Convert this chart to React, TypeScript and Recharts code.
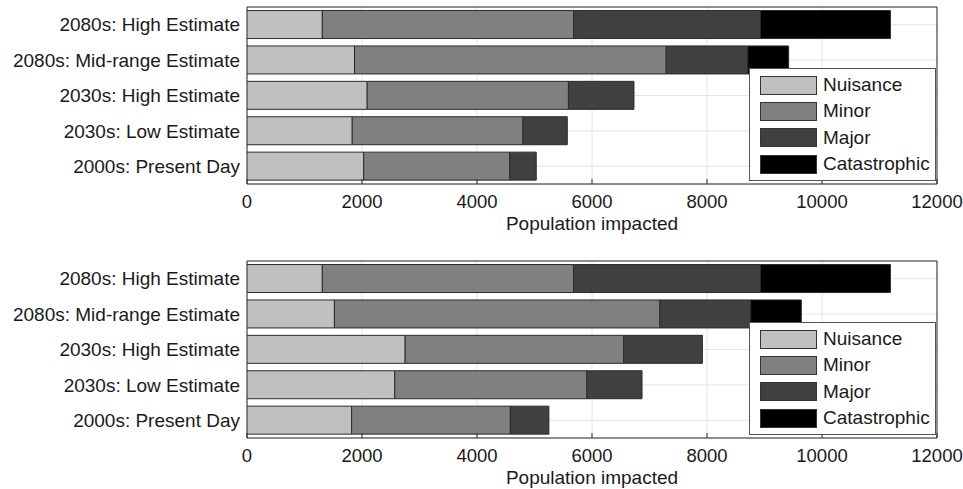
import React from 'react';
import {
  BarChart,
  Bar,
  XAxis,
  YAxis,
  CartesianGrid,
  Legend,
  ReferenceArea,
} from 'recharts';

const categories = [
  '2080s: High Estimate',
  '2080s: Mid-range Estimate',
  '2030s: High Estimate',
  '2030s: Low Estimate',
  '2000s: Present Day',
];

const seriesNames = ['Nuisance', 'Minor', 'Major', 'Catastrophic'];
const seriesColors = ['#c0c0c0', '#808080', '#404040', '#000000'];

// upper panel
const topNuisance = [1310, 1870, 2090, 1830, 2030];
const topMinor = [4370, 5420, 3500, 2970, 2540];
const topMajor = [3250, 1420, 1140, 770, 460];
const topCatastrophic = [2260, 710, 0, 0, 0];

// lower panel
const bottomNuisance = [1310, 1520, 2750, 2570, 1820];
const bottomMinor = [4370, 5660, 3800, 3340, 2760];
const bottomMajor = [3250, 1580, 1370, 960, 670];
const bottomCatastrophic = [2260, 880, 0, 0, 0];

const xTicks = [0, 2000, 4000, 6000, 8000, 10000, 12000];

const FONT = '"Liberation Sans", Arial, Helvetica, sans-serif';
const FS = 19;
const TEXT = '#1a1a1a';
const EDGE = '#2b2b2b';

const buildRows = (series: number[][]) =>
  categories.map((name, i) => ({
    name,
    Nuisance: series[0][i],
    Minor: series[1][i],
    Major: series[2][i],
    Catastrophic: series[3][i],
  }));

const BottomTick = (props: any) => {
  const { x, y, payload } = props;
  return (
    <g>
      <line x1={x} x2={x} y1={y - 11} y2={y - 16} stroke={EDGE} />
      <text x={x} y={y} dy="0.71em" textAnchor="middle" fill={TEXT} fontSize={18.5} fontFamily={FONT}>
        {payload.value}
      </text>
    </g>
  );
};

const TopTick = (props: any) => {
  const { x, y } = props;
  return <line x1={x} x2={x} y1={y} y2={y + 5} stroke={EDGE} />;
};

const RightTick = (props: any) => {
  const { x, y } = props;
  return <line x1={x} x2={x - 5} y1={y} y2={y} stroke={EDGE} />;
};

const LegendBox = ({ payload }: any) => {
  // keep the series order instead of the default alphabetical sort
  const items = [...(payload || [])].sort(
    (a: any, b: any) => seriesNames.indexOf(a.value) - seriesNames.indexOf(b.value)
  );
  return (
    <div
      style={{
        background: '#fff',
        border: '1px solid #555',
        width: 187,
        height: 113,
        boxSizing: 'border-box',
        padding: '3px 0 0 10px',
        fontFamily: FONT,
      }}
    >
      {items.map((p: any) => (
        <div key={p.value} style={{ display: 'flex', alignItems: 'center', height: 26.3 }}>
          <span
            style={{
              width: 57,
              height: 19,
              boxSizing: 'border-box',
              background: p.color,
              border: '1px solid #333',
            }}
          />
          <span style={{ marginLeft: 6, fontSize: FS, color: TEXT, lineHeight: '20px' }}>{p.value}</span>
        </div>
      ))}
    </div>
  );
};

const Panel = ({ series }: { series: number[][] }) => {
  const rows = buildRows(series);
  return (
    <BarChart
      width={963}
      height={245}
      data={rows}
      layout="vertical"
      margin={{ top: 7, right: 26, bottom: 0, left: 0 }}
      barCategoryGap="10%"
    >
      <CartesianGrid stroke="#e4e4e4" />
      <XAxis
        type="number"
        domain={[0, 12000]}
        ticks={xTicks}
        allowDataOverflow
        height={61}
        axisLine={false}
        tickLine={false}
        tickSize={0}
        tickMargin={11}
        tick={<BottomTick />}
        interval={0}
        label={{
          value: 'Population impacted',
          position: 'insideBottom',
          offset: 15,
          fill: TEXT,
          fontSize: FS,
          fontFamily: FONT,
        }}
      />
      <XAxis
        xAxisId="top"
        orientation="top"
        type="number"
        domain={[0, 12000]}
        ticks={xTicks}
        height={0}
        axisLine={false}
        tickLine={false}
        tickSize={0}
        tickMargin={0}
        tick={<TopTick />}
        interval={0}
      />
      <YAxis
        type="category"
        dataKey="name"
        width={247}
        axisLine={false}
        tickLine={false}
        tickSize={0}
        tickMargin={7}
        interval={0}
        tick={{ fill: TEXT, fontSize: FS, fontFamily: FONT }}
      />
      <YAxis
        yAxisId="right"
        orientation="right"
        type="category"
        dataKey="name"
        width={0}
        axisLine={false}
        tickLine={false}
        tickSize={0}
        tickMargin={0}
        interval={0}
        tick={<RightTick />}
      />
      {seriesNames.map((name, i) => (
        <Bar
          key={name}
          dataKey={name}
          stackId="a"
          fill={seriesColors[i]}
          stroke={EDGE}
          strokeWidth={1}
          isAnimationActive={false}
        />
      ))}
      <ReferenceArea x1={0} x2={12000} fill="none" stroke={EDGE} strokeWidth={1} ifOverflow="extendDomain" />
      <Legend
        layout="horizontal"
        align="center"
        verticalAlign="middle"
        content={<LegendBox />}
        wrapperStyle={{ left: 749, top: 68, width: 187, height: 113 }}
      />
    </BarChart>
  );
};

export default function App() {
  return (
    <div
      style={{
        position: 'absolute',
        left: 0,
        top: 0,
        width: 963,
        height: 489,
        overflow: 'hidden',
        background: '#fff',
      }}
    >
      <div style={{ position: 'absolute', left: 0, top: 0 }}>
        <Panel series={[topNuisance, topMinor, topMajor, topCatastrophic]} />
      </div>
      <div style={{ position: 'absolute', left: 0, top: 254 }}>
        <Panel series={[bottomNuisance, bottomMinor, bottomMajor, bottomCatastrophic]} />
      </div>
    </div>
  );
}
